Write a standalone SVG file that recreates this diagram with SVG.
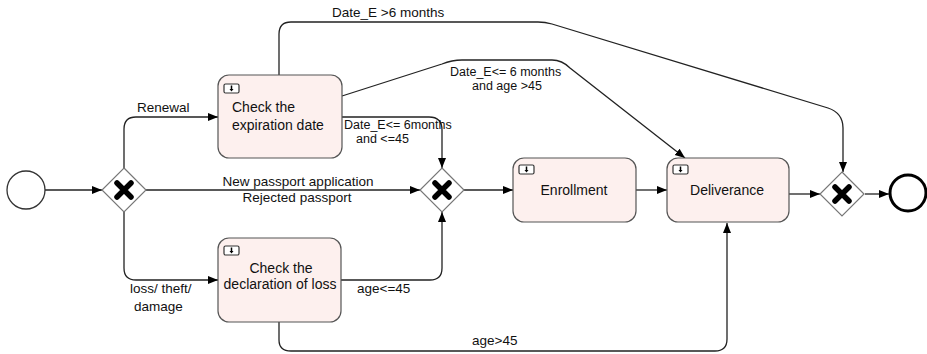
<svg xmlns="http://www.w3.org/2000/svg" width="927" height="354" viewBox="0 0 927 354">
<defs>
<marker id="arr" viewBox="0 0 10 10" refX="10" refY="5" markerWidth="10" markerHeight="10" markerUnits="userSpaceOnUse" orient="auto">
<path d="M0,1 L10,5 L0,9 z" fill="#000"/>
</marker>
<g id="icon">
<rect x="0" y="0" width="15" height="9" rx="1.5" fill="#fff" stroke="#333" stroke-width="1.2"/>
<path d="M7.5,1.5 V6" stroke="#000" stroke-width="1.5"/>
<path d="M5.5,5 L7.5,7.5 L9.5,5 z" fill="#000"/>
</g>
<g id="gw">
<path d="M0,-22 L22,0 L0,22 L-22,0 z" fill="#fff" stroke="#777" stroke-width="1.2"/>
<path d="M-7,-7 L7,7 M7,-7 L-7,7" stroke="#000" stroke-width="5.5" stroke-linecap="round"/>
</g>
</defs>
<style>
text{font-family:"Liberation Sans",Arial,sans-serif;font-size:13.5px;fill:#111}
.task{fill:#fdf0ee;stroke:#555;stroke-width:1.2}
.c{fill:none;stroke:#222;stroke-width:1.3}
.m{text-anchor:middle}
.s{font-size:12.5px}
</style>
<rect width="927" height="354" fill="#fff"/>
<g id="connectors">
<path class="c" d="M45,190 H102" marker-end="url(#arr)"/>
<path class="c" d="M124,168 V129 Q124,117 136,117 H218" marker-end="url(#arr)"/>
<path class="c" d="M124,212 V268 Q124,280 136,280 H218" marker-end="url(#arr)"/>
<path class="c" d="M146,190 H420" marker-end="url(#arr)"/>
<path class="c" d="M279,75 V34 Q279,22 291,22 H538 Q545,22 552,24 L828,108 Q843,113 843,128 V172" marker-end="url(#arr)"/>
<path class="c" d="M342,96 L442,64 Q452,60 462,60 H552 Q562,60 570,68 L685,158" marker-end="url(#arr)"/>
<path class="c" d="M342,117 H429 Q442,117 442,130 V168" marker-end="url(#arr)"/>
<path class="c" d="M341,280 H430 Q442,280 442,268 V212" marker-end="url(#arr)"/>
<path class="c" d="M279,322 V340 Q279,351 291,351 H715 Q727,351 727,339 V223" marker-end="url(#arr)"/>
<path class="c" d="M464,190 H513" marker-end="url(#arr)"/>
<path class="c" d="M636,190 H667" marker-end="url(#arr)"/>
<path class="c" d="M789,194 H820" marker-end="url(#arr)"/>
<path class="c" d="M865,194 H889" marker-end="url(#arr)"/>
</g>
<g id="labels">
<text x="137" y="112">Renewal</text>
<text x="332" y="17">Date_E &gt;6 months</text>
<text x="450" y="76" class="s">Date_E&lt;= 6 months</text>
<text x="472" y="90" class="s">and age &gt;45</text>
<text x="344" y="129" class="s">Date_E&lt;= 6months</text>
<text x="356" y="143" class="s">and &lt;=45</text>
<text x="298" y="186" class="m">New passport application</text>
<text x="297" y="202" class="m">Rejected passport</text>
<text x="130" y="293">loss/ theft/</text>
<text x="134" y="311">damage</text>
<text x="357" y="293">age&lt;=45</text>
<text x="472" y="345">age&gt;45</text>
</g>
<g id="start"><circle cx="26" cy="190" r="19" fill="#fff" stroke="#333" stroke-width="1.3"/></g>
<g id="gateway1"><use href="#gw" x="124" y="190"/></g>
<g id="gateway2"><use href="#gw" x="442" y="190"/></g>
<g id="gateway3"><use href="#gw" x="842" y="194"/></g>
<g id="end"><circle cx="908" cy="193" r="18" fill="#fff" stroke="#000" stroke-width="3"/></g>
<g id="task-expiration">
<rect class="task" x="218" y="75" width="124" height="83" rx="11"/>
<use href="#icon" x="224" y="84"/>
<text x="232" y="112" style="font-size:14px">Check the</text>
<text x="232" y="130" style="font-size:14px">expiration date</text>
</g>
<g id="task-loss">
<rect class="task" x="218" y="238" width="123" height="84" rx="11"/>
<use href="#icon" x="224" y="246"/>
<text x="281" y="273" class="m" style="font-size:14px">Check the</text>
<text x="280" y="289" class="m" style="font-size:14px">declaration of loss</text>
</g>
<g id="task-enrollment">
<rect class="task" x="513" y="158" width="123" height="64" rx="11"/>
<use href="#icon" x="519" y="165"/>
<text x="574" y="195" class="m" style="font-size:14px">Enrollment</text>
</g>
<g id="task-deliverance">
<rect class="task" x="667" y="158" width="122" height="64" rx="11"/>
<use href="#icon" x="673" y="165"/>
<text x="727" y="195" class="m" style="font-size:14px">Deliverance</text>
</g>
</svg>
